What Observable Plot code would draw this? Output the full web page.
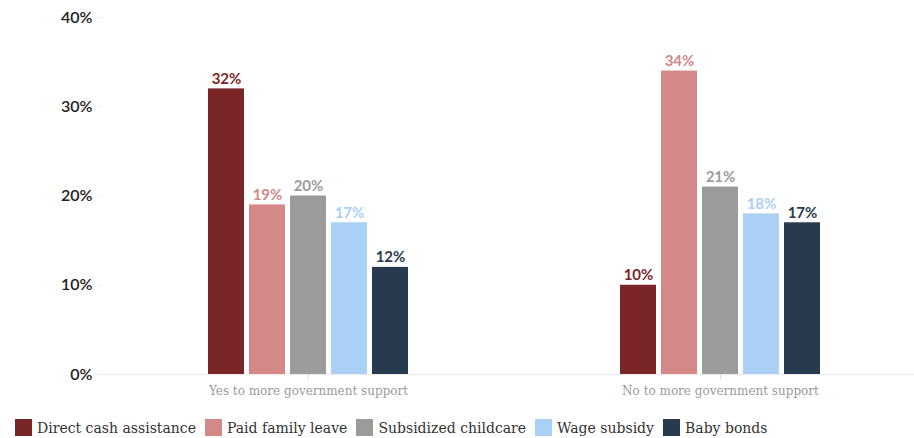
<!DOCTYPE html>
<html>
<head>
<meta charset="utf-8">
<script src="https://cdn.jsdelivr.net/npm/d3@7"></script>
<script src="https://cdn.jsdelivr.net/npm/@observablehq/plot@0.6"></script>
<style>
  body { margin: 0; background: #fff; }
  #chart { width: 914px; }
  #chart svg { display: block; }
  #legend { margin-top: 6px; padding-left: 15px; }
  .lg-swatch { margin-right: 9px !important; }
  .lg-swatch svg { margin-right: 5px !important; }
</style>
</head>
<body>
<div id="chart"></div>
<div id="legend"></div>
<script>
const groups = ["Yes to more government support", "No to more government support"];
const categories = ["Direct cash assistance", "Paid family leave", "Subsidized childcare", "Wage subsidy", "Baby bonds"];
const yesValues = [32, 19, 20, 17, 12];
const noValues = [10, 34, 21, 18, 17];
const colors = ["#7a2629", "#d48888", "#9b9b9b", "#abd0f5", "#283a4e"];
const yTicks = [0, 10, 20, 30, 40];

const data = [];
categories.forEach((c, i) => data.push({group: groups[0], category: c, value: yesValues[i]}));
categories.forEach((c, i) => data.push({group: groups[1], category: c, value: noValues[i]}));

const serif = "'DejaVu Serif', serif";
const sans = "Lato, 'Open Sans', sans-serif";

const plot = Plot.plot({
  width: 914,
  height: 405,
  marginLeft: 100,
  marginRight: 0,
  marginTop: 17,
  marginBottom: 31,
  fx: {domain: groups, range: [102, 926], padding: 0, label: null, round: false},
  x: {domain: categories, axis: null, paddingInner: 0.122, paddingOuter: 2.586, round: false},
  y: {domain: [0, 40], label: null},
  color: {domain: categories, range: colors},
  marks: [
    Plot.ruleY([0], {stroke: "#eeeeee", strokeWidth: 1.5}),
    Plot.axisY({ticks: yTicks, tickSize: 5, tickPadding: 5, line: true, stroke: "#eeeeee", fill: "#222",
      fontSize: 16, fontWeight: 600, fontFamily: sans, tickFormat: d => d + "%", label: null}),
    Plot.axisFx({anchor: "bottom", tickSize: 5, tickPadding: 7, stroke: "#dddddd", fill: "#9a9a9a",
      fontSize: 12, fontFamily: serif, label: null}),
    Plot.barY(data, {fx: "group", x: "category", y: "value", fill: "category"}),
    Plot.text(data, {fx: "group", x: "category", y: "value", text: d => d.value + "%", fill: "category",
      dy: -10, fontSize: 15, fontWeight: 700, fontFamily: sans})
  ]
});
plot.style.fontFamily = sans;
document.getElementById("chart").appendChild(plot);

const legend = Plot.legend({
  color: {domain: categories, range: colors, type: "categorical"},
  swatchSize: 17,
  className: "lg",
  style: {fontSize: "14px", fontFamily: serif, color: "#333"}
});
document.getElementById("legend").appendChild(legend);
</script>
</body>
</html>
